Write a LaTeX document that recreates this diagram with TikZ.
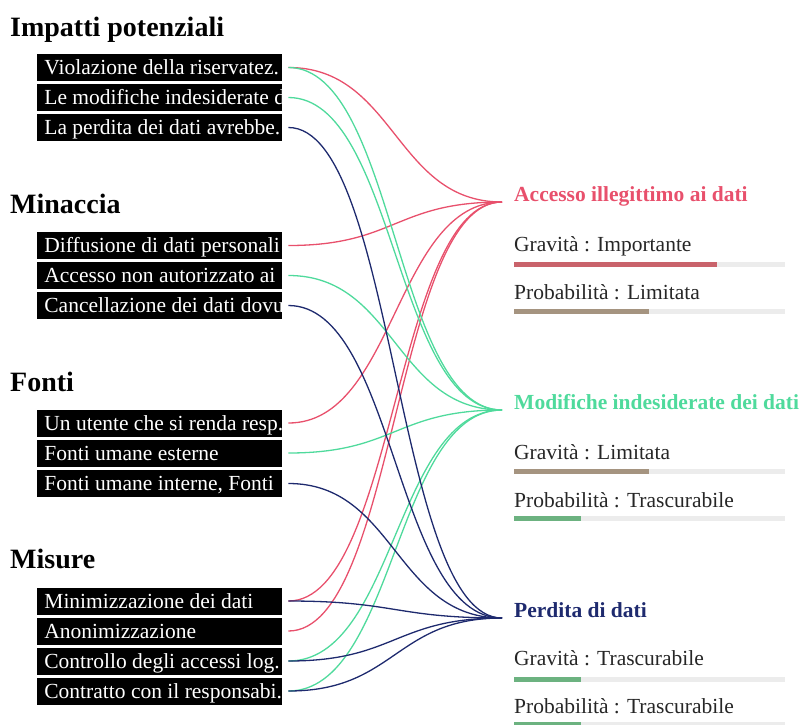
\documentclass[tikz,border=0pt]{standalone}
\usepackage{fontspec}
\setmainfont{Liberation Serif}
\definecolor{colAcc}{HTML}{E8506C}
\definecolor{colMod}{HTML}{4FDA9C}
\definecolor{colPer}{HTML}{1E2A6E}
\definecolor{barRed}{HTML}{C9636B}
\definecolor{barBrown}{HTML}{A59480}
\definecolor{barGreen}{HTML}{6CB280}
\definecolor{barBack}{HTML}{ECECEC}

\begin{document}
\begin{tikzpicture}[x=1pt, y=-1pt,
    header/.style={anchor=base west, inner sep=0pt, font=\fontsize{28}{32}\selectfont\bfseries},
    databox/.style={anchor=west, fill=black, minimum width=245pt, minimum height=27pt, inner sep=0pt,
        path picture={\node[anchor=base west, minimum width=0pt, minimum height=0pt, inner sep=0pt,
            fill=none, text=white, font=\fontsize{21.5}{24}\selectfont]
            at ([xshift=7pt, yshift=-7pt]path picture bounding box.west) {#1};}},
    risktitle/.style={anchor=base west, inner sep=0pt, text=#1, font=\fontsize{21.5}{24}\selectfont\bfseries},
    info/.style={anchor=base west, inner sep=0pt, text=black!85, font=\fontsize{21.5}{24}\selectfont},
    link/.style={line width=1.3pt, draw=#1,
        to path={.. controls +(107,0) and +(-107,0) .. (\tikztotarget)}}]
        \useasboundingbox (0,0) rectangle (803,724);
        \clip (0,0) rectangle (803,724);

        % 左侧: 分组标题
        \node[header] (hImp) at (10,36) {Impatti potenziali};
        \node[header] (hMin) at (10,213.5) {Minaccia};
        \node[header] (hFon) at (10,391) {Fonti};
        \node[header] (hMis) at (10,568.5) {Misure};

        % 左侧: 黑色条目
        \node[databox={Violazione della riservatez.}] (imp1) at (37,67.5) {};
        \node[databox={Le modifiche indesiderate d}] (imp2) at (37,97.5) {};
        \node[databox={La perdita dei dati avrebbe.}] (imp3) at (37,127.5) {};

        \node[databox={Diffusione di dati personali}] (min1) at (37,245.5) {};
        \node[databox={Accesso non autorizzato ai}] (min2) at (37,275.5) {};
        \node[databox={Cancellazione dei dati dovu}] (min3) at (37,305.5) {};

        \node[databox={Un utente che si renda resp.}] (fon1) at (37,423) {};
        \node[databox={Fonti umane esterne}] (fon2) at (37,453) {};
        \node[databox={{Fonti umane interne, Fonti}}] (fon3) at (37,483.5) {};

        \node[databox={Minimizzazione dei dati}] (mis1) at (37,601) {};
        \node[databox={Anonimizzazione}] (mis2) at (37,631) {};
        \node[databox={Controllo degli accessi log.}] (mis3) at (37,661) {};
        \node[databox={Contratto con il responsabi.}] (mis4) at (37,691) {};

        % 右侧: 风险标题
        \node[risktitle=colAcc] (acc) at (514,201) {Accesso illegittimo ai dati};
        \node[risktitle=colMod] (mod) at (514,409) {Modifiche indesiderate dei dati};
        \node[risktitle=colPer] (per) at (514,617) {Perdita di dati};

        % 右侧: 等级与进度条
        \node[info] (accGrav) at (514,251) {Gravità : Importante};
        \fill[barBack] (514,261.5) rectangle (785,266.5);
        \fill[barRed] (514,261.5) rectangle (717,266.5);
        \node[info] (accProb) at (514,299) {Probabilità : Limitata};
        \fill[barBack] (514,308.5) rectangle (785,313.5);
        \fill[barBrown] (514,308.5) rectangle (649,313.5);

        \node[info] (modGrav) at (514,459.5) {Gravità : Limitata};
        \fill[barBack] (514,468.5) rectangle (785,473.5);
        \fill[barBrown] (514,468.5) rectangle (649,473.5);
        \node[info] (modProb) at (514,507) {Probabilità : Trascurabile};
        \fill[barBack] (514,516) rectangle (785,521);
        \fill[barGreen] (514,516) rectangle (581,521);

        \node[info] (perGrav) at (514,665.5) {Gravità : Trascurabile};
        \fill[barBack] (514,676.5) rectangle (785,681.5);
        \fill[barGreen] (514,676.5) rectangle (581,681.5);
        \node[info] (perProb) at (514,713.5) {Probabilità : Trascurabile};
        \fill[barBack] (514,722) rectangle (785,727);
        \fill[barGreen] (514,722) rectangle (581,727);

        % 连线 -> Accesso illegittimo ai dati
        \draw[link=colAcc] ([xshift=6pt]imp1.east) to ([xshift=-12pt, yshift=-1pt]acc.base west);
        \draw[link=colAcc] ([xshift=6pt]min1.east) to ([xshift=-12pt, yshift=-1pt]acc.base west);
        \draw[link=colAcc] ([xshift=6pt]fon1.east) to ([xshift=-12pt, yshift=-1pt]acc.base west);
        \draw[link=colAcc] ([xshift=6pt]mis1.east) to ([xshift=-12pt, yshift=-1pt]acc.base west);
        \draw[link=colAcc] ([xshift=6pt]mis2.east) to ([xshift=-12pt, yshift=-1pt]acc.base west);

        % 连线 -> Modifiche indesiderate dei dati
        \draw[link=colMod] ([xshift=6pt]imp1.east) to ([xshift=-12pt, yshift=-1pt]mod.base west);
        \draw[link=colMod] ([xshift=6pt]imp2.east) to ([xshift=-12pt, yshift=-1pt]mod.base west);
        \draw[link=colMod] ([xshift=6pt]min2.east) to ([xshift=-12pt, yshift=-1pt]mod.base west);
        \draw[link=colMod] ([xshift=6pt]fon2.east) to ([xshift=-12pt, yshift=-1pt]mod.base west);
        \draw[link=colMod] ([xshift=6pt]mis3.east) to ([xshift=-12pt, yshift=-1pt]mod.base west);
        \draw[link=colMod] ([xshift=6pt]mis4.east) to ([xshift=-12pt, yshift=-1pt]mod.base west);

        % 连线 -> Perdita di dati
        \draw[link=colPer] ([xshift=6pt]imp3.east) to ([xshift=-12pt, yshift=-1pt]per.base west);
        \draw[link=colPer] ([xshift=6pt]min3.east) to ([xshift=-12pt, yshift=-1pt]per.base west);
        \draw[link=colPer] ([xshift=6pt]fon3.east) to ([xshift=-12pt, yshift=-1pt]per.base west);
        \draw[link=colPer] ([xshift=6pt]mis1.east) to ([xshift=-12pt, yshift=-1pt]per.base west);
        \draw[link=colPer] ([xshift=6pt]mis3.east) to ([xshift=-12pt, yshift=-1pt]per.base west);
        \draw[link=colPer] ([xshift=6pt]mis4.east) to ([xshift=-12pt, yshift=-1pt]per.base west);
\end{tikzpicture}
\end{document}
